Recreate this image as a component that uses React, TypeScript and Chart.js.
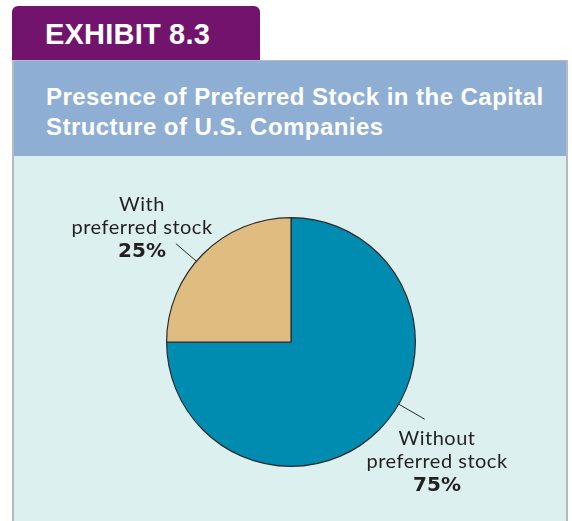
import React, { useEffect, useRef } from "react";
import { Chart, registerables } from "chart.js";

Chart.register(...registerables);

const categories = ["Without preferred stock", "With preferred stock"];
const labelLines = [["Without", "preferred stock"], ["With", "preferred stock"]];
const shares = [75, 25];
const sliceColors = ["#008bb1", "#dfbc7f"];

const TEXT = "#231f20";
const BODY_FONT = "'Lato', 'Open Sans', sans-serif";
const PCT_FONT = "'DejaVu Sans', sans-serif";
const HEAD_FONT = "'Liberation Sans', Arial, sans-serif";

// label placement relative to the pie: leader line angle, leader length, text anchor offset
const labelPlacement = [
  { angle: 30, lineLen: 30, dx: 146, dy: 103 },
  { angle: -139.5, lineLen: 27, dx: -149, dy: -131 },
];

const calloutPlugin = {
  id: "callouts",
  afterDatasetsDraw(chart: any) {
    const ctx = chart.ctx;
    const meta = chart.getDatasetMeta(0);
    meta.data.forEach((arc: any, i: number) => {
      const { x, y, outerRadius } = arc.getProps(["x", "y", "outerRadius"], true);
      const p = labelPlacement[i];
      const a = (p.angle * Math.PI) / 180;
      const sx = x + Math.cos(a) * outerRadius;
      const sy = y + Math.sin(a) * outerRadius;
      const ex = x + Math.cos(a) * (outerRadius + p.lineLen);
      const ey = y + Math.sin(a) * (outerRadius + p.lineLen);
      ctx.save();
      ctx.strokeStyle = "#2a2a2a";
      ctx.lineWidth = 1;
      ctx.beginPath();
      ctx.moveTo(sx, sy);
      ctx.lineTo(ex, ey);
      ctx.stroke();
      ctx.fillStyle = TEXT;
      ctx.textAlign = "center";
      ctx.textBaseline = "alphabetic";
      const tx = x + p.dx;
      let ty = y + p.dy;
      ctx.font = `400 20px ${BODY_FONT}`;
      (ctx as any).letterSpacing = "0.5px";
      labelLines[i].forEach((line) => {
        ctx.fillText(line, tx, ty);
        ty += 23;
      });
      (ctx as any).letterSpacing = "0px";
      ctx.font = `700 20px ${PCT_FONT}`;
      ctx.fillText(`${chart.data.datasets[0].data[i]}%`, tx, ty);
      ctx.restore();
    });
  },
};

export default function App() {
  const canvasRef = useRef<HTMLCanvasElement | null>(null);

  useEffect(() => {
    document.body.style.margin = "0";
    const chart = new Chart(canvasRef.current as HTMLCanvasElement, {
      type: "pie",
      data: {
        labels: categories,
        datasets: [
          {
            data: shares,
            backgroundColor: sliceColors,
            borderColor: "#2b2b2b",
            borderWidth: 1.2,
          },
        ],
      },
      options: {
        responsive: false,
        animation: false,
        layout: { padding: { left: 152, right: 150, top: 61, bottom: 54 } },
        plugins: {
          legend: { display: false },
          tooltip: { enabled: false },
        },
      },
      plugins: [calloutPlugin],
    });
    return () => chart.destroy();
  }, []);

  return (
    <div style={{ position: "relative", width: 572, height: 521, background: "#fff", overflow: "hidden" }}>
      <div
        style={{
          position: "absolute",
          left: 12,
          top: 6,
          width: 248,
          height: 54,
          background: "#72136e",
          borderTopLeftRadius: 6,
          borderTopRightRadius: 6,
        }}
      />
      <div
        style={{
          position: "absolute",
          left: 45,
          top: 14,
          color: "#fff",
          fontFamily: HEAD_FONT,
          fontWeight: 700,
          fontSize: 29,
          lineHeight: "40px",
          letterSpacing: "0.2px",
          whiteSpace: "nowrap",
        }}
      >
        EXHIBIT 8.3
      </div>
      <div
        style={{
          position: "absolute",
          left: 12,
          top: 60,
          width: 556,
          height: 461,
          background: "#b4bcc1",
        }}
      />
      <div
        style={{
          position: "absolute",
          left: 14,
          top: 61,
          width: 552,
          height: 95,
          background: "#8eaed4",
        }}
      />
      <div
        style={{
          position: "absolute",
          left: 46,
          top: 82,
          color: "#fff",
          fontFamily: HEAD_FONT,
          fontWeight: 700,
          fontSize: 24,
          lineHeight: "29.5px",
          letterSpacing: "0.45px",
          whiteSpace: "nowrap",
        }}
      >
        Presence of Preferred Stock in the Capital
        <br />
        Structure of U.S. Companies
      </div>
      <div
        style={{
          position: "absolute",
          left: 14,
          top: 156,
          width: 552,
          height: 365,
          background: "#dcf0f0",
        }}
      >
        <canvas ref={canvasRef} width={552} height={365} style={{ display: "block" }} />
      </div>
    </div>
  );
}
